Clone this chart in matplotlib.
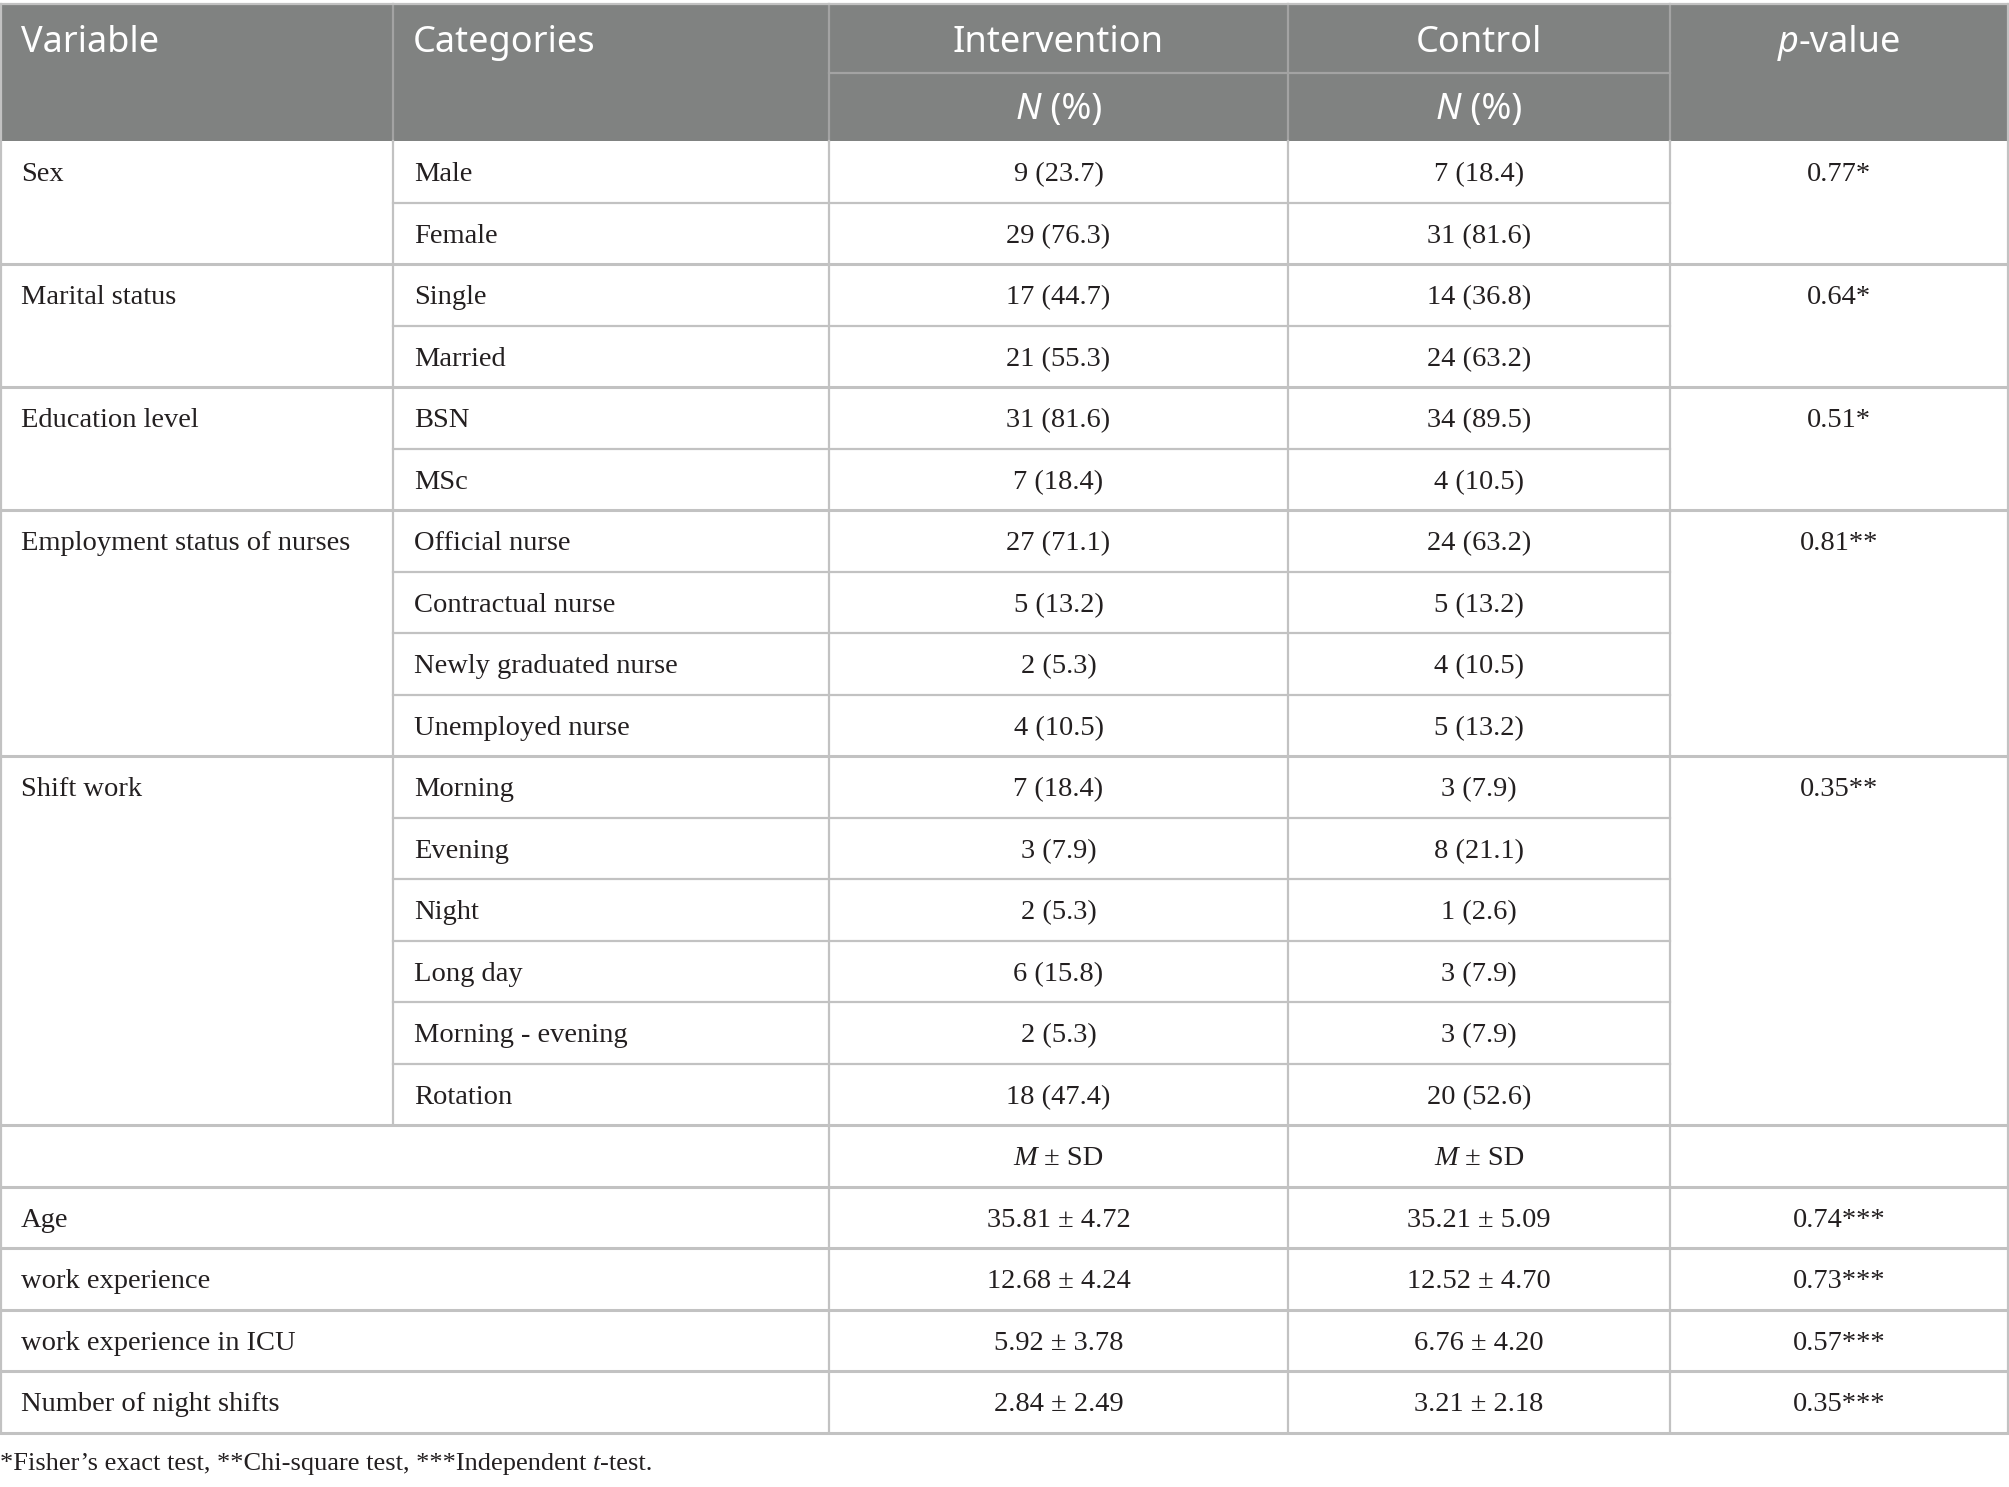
import matplotlib
matplotlib.use("Agg")
import matplotlib.pyplot as plt
from matplotlib.lines import Line2D
from matplotlib.patches import Rectangle

# ---------------- data ----------------
variables = ["Sex", "Marital status", "Education level",
             "Employment status of nurses", "Shift work"]
categories = [
    ["Male", "Female"],
    ["Single", "Married"],
    ["BSN", "MSc"],
    ["Official nurse", "Contractual nurse", "Newly graduated nurse", "Unemployed nurse"],
    ["Morning", "Evening", "Night", "Long day", "Morning - evening", "Rotation"],
]
intervention = [
    ["9 (23.7)", "29 (76.3)"],
    ["17 (44.7)", "21 (55.3)"],
    ["31 (81.6)", "7 (18.4)"],
    ["27 (71.1)", "5 (13.2)", "2 (5.3)", "4 (10.5)"],
    ["7 (18.4)", "3 (7.9)", "2 (5.3)", "6 (15.8)", "2 (5.3)", "18 (47.4)"],
]
control = [
    ["7 (18.4)", "31 (81.6)"],
    ["14 (36.8)", "24 (63.2)"],
    ["34 (89.5)", "4 (10.5)"],
    ["24 (63.2)", "5 (13.2)", "4 (10.5)", "5 (13.2)"],
    ["3 (7.9)", "8 (21.1)", "1 (2.6)", "3 (7.9)", "3 (7.9)", "20 (52.6)"],
]
p_values = ["0.77*", "0.64*", "0.51*", "0.81**", "0.35**"]

cont_vars = ["Age", "work experience", "work experience in ICU", "Number of night shifts"]
cont_int = ["35.81 ± 4.72", "12.68 ± 4.24", "5.92 ± 3.78", "2.84 ± 2.49"]
cont_ctl = ["35.21 ± 5.09", "12.52 ± 4.70", "6.76 ± 4.20", "3.21 ± 2.18"]
cont_p = ["0.74***", "0.73***", "0.57***", "0.35***"]

header = ["Variable", "Categories", "Intervention", "Control", "-value"]
footnote_runs = [("*Fisher’s exact test, **Chi-square test, ***Independent ", "normal"),
                 ("t", "italic"), ("-test.", "normal")]

# ---------------- layout ----------------
W, H = 2009, 1487
fig = plt.figure(figsize=(W / 100, H / 100), dpi=100)
ax = fig.add_axes([0, 0, 1, 1])
ax.set_xlim(0, W)
ax.set_ylim(H, 0)
ax.axis("off")

cols = [1, 393, 829, 1288, 1670, 2008]
top, hmid, hbot = 4, 73, 141
rh = 61.5
dy = 3  # text baseline offset
serif = "Liberation Serif"
sans = "Noto Sans"
body_fs = 20.5
head_fs = 26
txt_col = "#231f20"
line_col = "#c2c2c2"
lw = 1.6

renderer = fig.canvas.get_renderer()


def runs_text(x, y, runs, ha="left", family=serif, fs=body_fs, color=txt_col, va="center"):
    objs = []
    for s, style in runs:
        t = ax.text(x, y, s, fontsize=fs, family=family, style=style, color=color,
                    ha="left", va=va)
        objs.append(t)
    widths = [t.get_window_extent(renderer).width for t in objs]
    total = sum(widths)
    if ha == "center":
        start = x - total / 2
    elif ha == "right":
        start = x - total
    else:
        start = x
    for t, w in zip(objs, widths):
        t.set_x(start)
        start += w


def btext(x, y, s, ha="left"):
    ax.text(x, y + dy, s, fontsize=body_fs, family=serif, color=txt_col, va="center", ha=ha)


# header background
ax.add_patch(Rectangle((0, top), W, hbot - top, facecolor="#808281", edgecolor="none"))
hdr_line = "#a3a3a3"
for xc in cols[1:-1]:
    ax.add_line(Line2D([xc, xc], [top, hbot], color=hdr_line, lw=lw))
ax.add_line(Line2D([cols[2], cols[4]], [hmid, hmid], color=hdr_line, lw=lw))
ax.add_line(Line2D([0, W], [top, top], color=line_col, lw=lw))

hy = 43
hy2 = 110
ax.text(cols[0] + 20, hy, header[0], fontsize=head_fs, family=sans, color="white", va="center")
ax.text(cols[1] + 20, hy, header[1], fontsize=head_fs, family=sans, color="white", va="center")
ax.text((cols[2] + cols[3]) / 2, hy, header[2], fontsize=head_fs, family=sans, color="white",
        va="center", ha="center")
ax.text((cols[3] + cols[4]) / 2, hy, header[3], fontsize=head_fs, family=sans, color="white",
        va="center", ha="center")
runs_text((cols[4] + cols[5]) / 2, hy, [("p", "italic"), (header[4], "normal")], ha="center",
          family=sans, fs=head_fs, color="white")
for c in (2, 3):
    runs_text((cols[c] + cols[c + 1]) / 2, hy2, [("N", "italic"), (" (%)", "normal")],
              ha="center", family=sans, fs=head_fs, color="white")

# body
row = 0
for gi, var in enumerate(variables):
    g_top = hbot + row * rh
    n = len(categories[gi])
    btext(cols[0] + 20, g_top + rh / 2, var)
    btext((cols[4] + cols[5]) / 2, g_top + rh / 2, p_values[gi], ha="center")
    for k in range(n):
        yc = hbot + (row + 0.5) * rh
        btext(cols[1] + 21, yc, categories[gi][k])
        btext((cols[2] + cols[3]) / 2, yc, intervention[gi][k], ha="center")
        btext((cols[3] + cols[4]) / 2, yc, control[gi][k], ha="center")
        if k < n - 1:
            yl = hbot + (row + 1) * rh
            ax.add_line(Line2D([cols[1], cols[4]], [yl, yl], color=line_col, lw=lw))
        row += 1
    yl = hbot + row * rh
    ax.add_line(Line2D([0, W], [yl, yl], color=line_col, lw=lw + 0.6))
cat_bottom = hbot + row * rh

# M ± SD row
yc = hbot + (row + 0.5) * rh
for c in (2, 3):
    runs_text((cols[c] + cols[c + 1]) / 2, yc + dy, [("M", "italic"), (" ± SD", "normal")],
              ha="center")
row += 1
ax.add_line(Line2D([0, W], [hbot + row * rh] * 2, color=line_col, lw=lw + 0.6))

for i, v in enumerate(cont_vars):
    yc = hbot + (row + 0.5) * rh
    btext(cols[0] + 20, yc, v)
    btext((cols[2] + cols[3]) / 2, yc, cont_int[i], ha="center")
    btext((cols[3] + cols[4]) / 2, yc, cont_ctl[i], ha="center")
    btext((cols[4] + cols[5]) / 2, yc, cont_p[i], ha="center")
    row += 1
    ax.add_line(Line2D([0, W], [hbot + row * rh] * 2, color=line_col, lw=lw + 0.6))
bottom = hbot + row * rh

# vertical lines
ax.add_line(Line2D([cols[0], cols[0]], [top, bottom], color=line_col, lw=lw))
ax.add_line(Line2D([cols[5], cols[5]], [top, bottom], color=line_col, lw=lw))
ax.add_line(Line2D([cols[1], cols[1]], [hbot, cat_bottom], color=line_col, lw=lw))
for c in (2, 3, 4):
    ax.add_line(Line2D([cols[c], cols[c]], [hbot, bottom], color=line_col, lw=lw))

# footnote
runs_text(0, 1464, footnote_runs, fs=19)

fig.savefig("out.png", dpi=100, facecolor="white")
